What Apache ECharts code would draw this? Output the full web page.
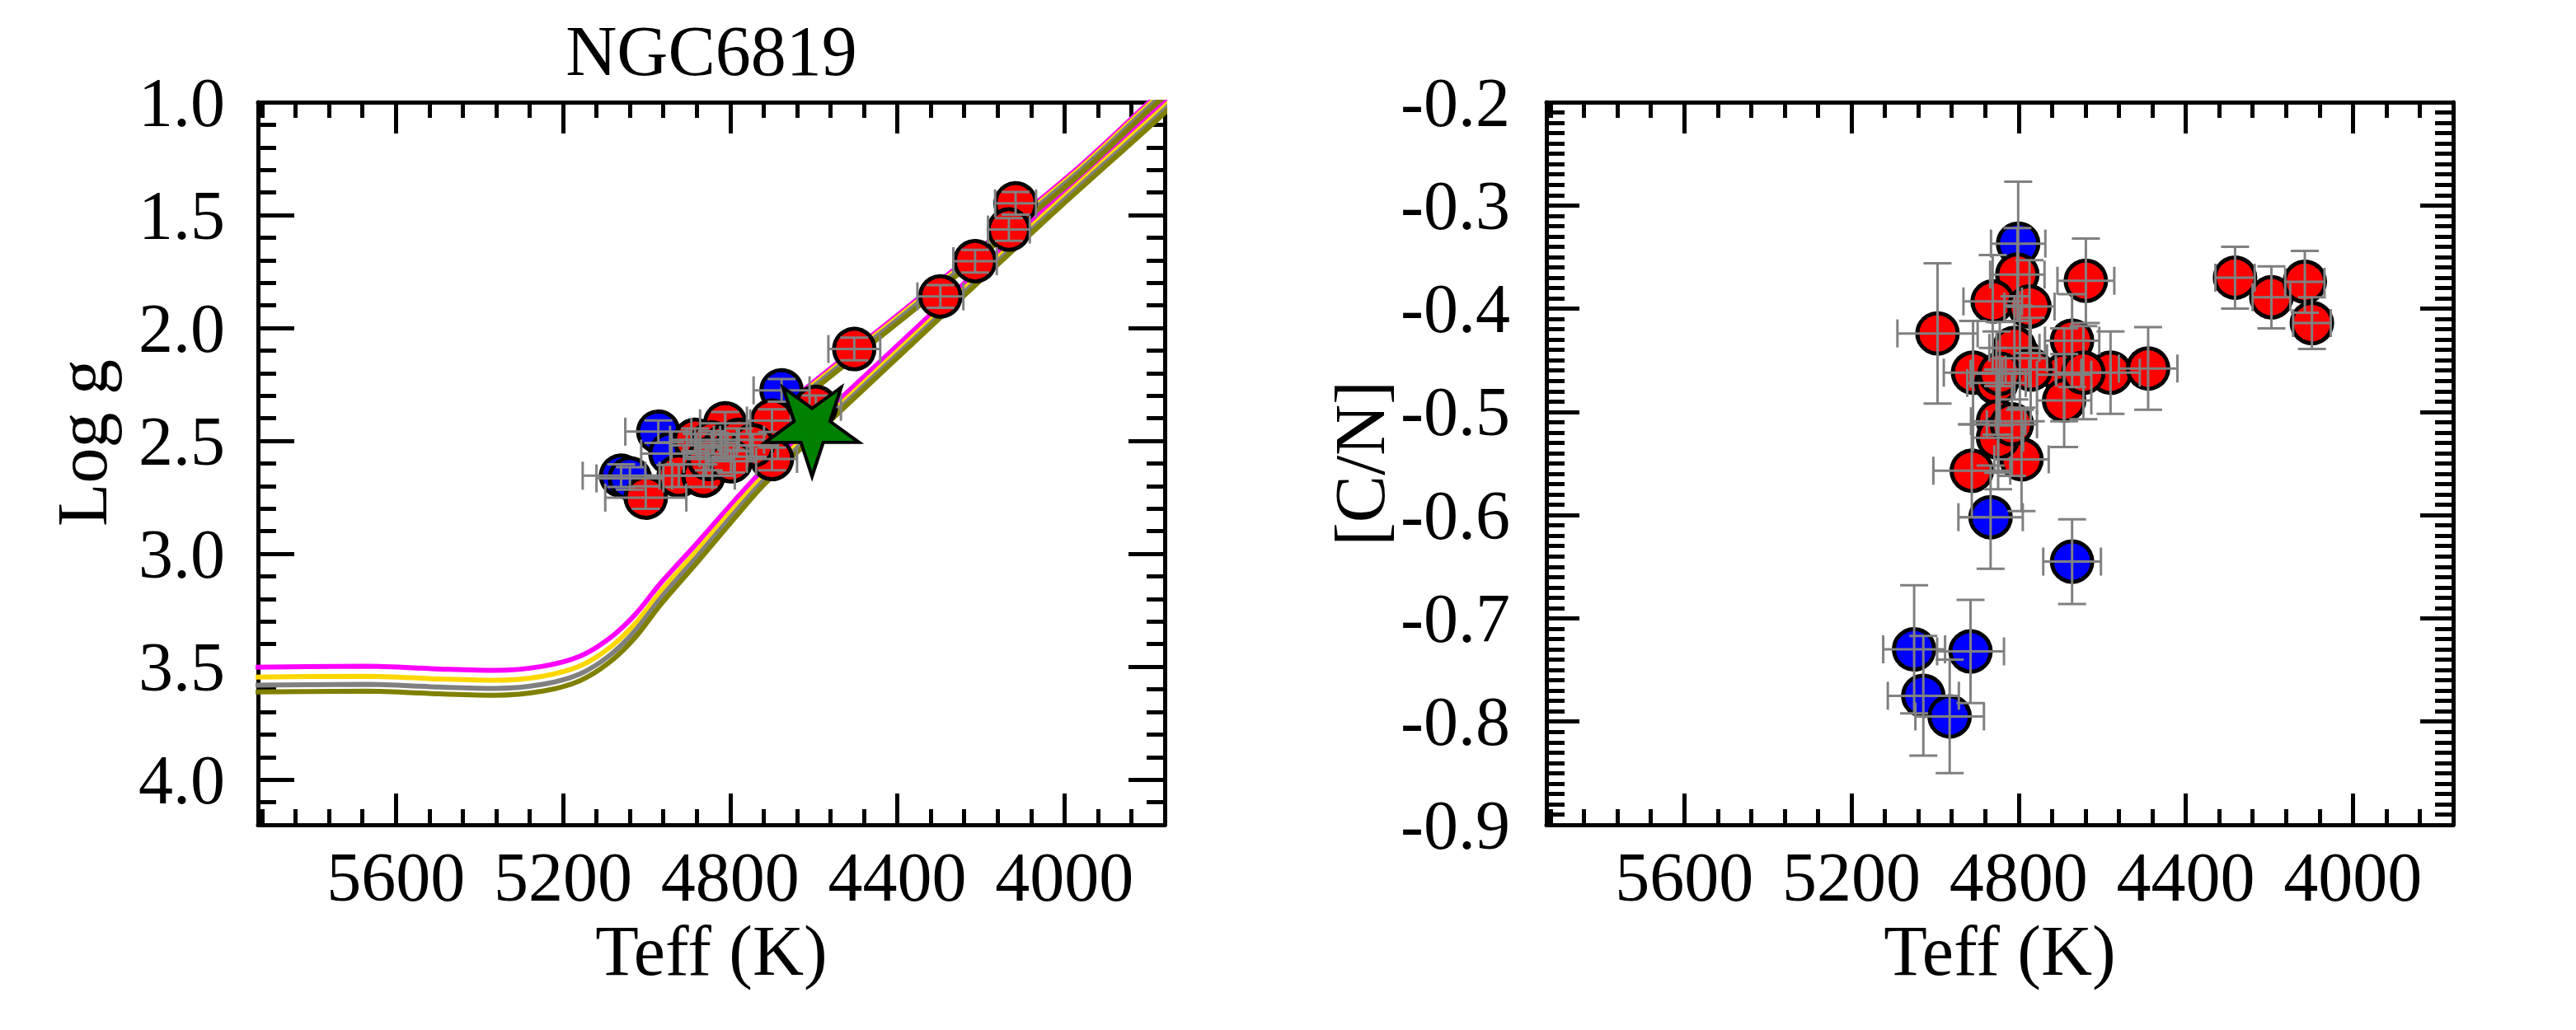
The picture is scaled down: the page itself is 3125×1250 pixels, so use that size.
<!DOCTYPE html>
<html>
<head>
<meta charset="utf-8">
<script src="https://cdn.jsdelivr.net/npm/echarts@6/dist/echarts.min.js"></script>
<style>
html, body { margin: 0; padding: 0; background: #fff; }
#main { width: 3125px; height: 1250px; }
</style>
</head>
<body>
<div id="main"></div>
<script>
// rows: [Teff, value, errTeff, errValue]
var loggBlue = [
    [4972, 2.459, 79, 0.05], [4677, 2.276, 67, 0.05], [5061, 2.654, 92, 0.05],
    [5040, 2.666, 80, 0.05], [4943, 2.556, 70, 0.05], [4812, 2.52, 60, 0.05],
    [4880, 2.52, 60, 0.05]
];
var loggRed = [
    [4117, 1.448, 49, 0.05], [4133, 1.564, 50, 0.05], [4214, 1.704, 52, 0.05],
    [4297, 1.86, 55, 0.05], [4503, 2.093, 62, 0.05], [5002, 2.751, 97, 0.05],
    [4923, 2.654, 80, 0.05], [4864, 2.654, 75, 0.05], [4700, 2.41, 60, 0.05],
    [4700, 2.58, 60, 0.05], [4812, 2.422, 60, 0.05], [4595, 2.349, 60, 0.05],
    [4884, 2.495, 60, 0.05], [4844, 2.507, 60, 0.05], [4812, 2.52, 60, 0.05],
    [4779, 2.495, 60, 0.05], [4746, 2.52, 60, 0.05], [4851, 2.58, 60, 0.05],
    [4798, 2.59, 60, 0.05]
];
var loggStar = [[4604, 2.46]];

var cnBlue = [
    [4801, -0.337, 65, 0.06], [4867, -0.602, 77, 0.05], [4672, -0.645, 69, 0.041],
    [5050, -0.730, 74, 0.062], [4915, -0.732, 80, 0.05], [5028, -0.775, 85, 0.058],
    [4965, -0.795, 82, 0.055]
];
var cnRed = [
    [4803, -0.367, 65, 0.045], [4862, -0.393, 70, 0.045], [4639, -0.373, 68, 0.041],
    [4994, -0.424, 96, 0.068], [4774, -0.398, 60, 0.045], [4672, -0.431, 65, 0.045],
    [4909, -0.462, 70, 0.05], [4797, -0.448, 65, 0.05], [4853, -0.472, 70, 0.05],
    [4691, -0.464, 65, 0.045], [4580, -0.462, 70, 0.04], [4490, -0.458, 70, 0.04],
    [4691, -0.489, 65, 0.045], [4849, -0.509, 65, 0.05], [4793, -0.546, 65, 0.05],
    [4912, -0.557, 92, 0.045], [4810, -0.438, 60, 0.05], [4771, -0.459, 60, 0.05],
    [4645, -0.462, 65, 0.045], [4849, -0.525, 60, 0.05], [4816, -0.512, 60, 0.05],
    [4845, -0.463, 70, 0.05], [4282, -0.370, 47, 0.03], [4195, -0.389, 45, 0.03],
    [4115, -0.374, 47, 0.03], [4098, -0.414, 45, 0.025]
];

// isochrones: red giant branch and upper branch, [Teff, logg]
var magentaRgb = [[6000, 3.503], [5672, 3.498], [5495, 3.51], [5363, 3.516], [5249, 3.498], [5160, 3.454], [5090, 3.376], [5028, 3.27], [4967, 3.131], [4879, 2.952], [4790, 2.765], [4720, 2.626], [4528, 2.299], [4055, 1.484], [3781, 1.028], [3700, 0.89]];
var goldRgb = [[6000, 3.547], [5672, 3.542], [5495, 3.554], [5363, 3.56], [5249, 3.542], [5160, 3.497], [5090, 3.418], [5028, 3.31], [4967, 3.168], [4879, 2.985], [4790, 2.795], [4720, 2.655], [4528, 2.324], [4055, 1.509], [3781, 1.053], [3700, 0.915]];
var grayRgb = [[6000, 3.583], [5672, 3.578], [5495, 3.59], [5363, 3.596], [5249, 3.578], [5160, 3.532], [5090, 3.452], [5028, 3.342], [4967, 3.198], [4879, 3.012], [4790, 2.82], [4720, 2.675], [4528, 2.339], [4055, 1.524], [3781, 1.068], [3700, 0.93]];
var oliveRgb = [[6000, 3.613], [5672, 3.608], [5495, 3.62], [5363, 3.626], [5249, 3.608], [5160, 3.562], [5090, 3.482], [5028, 3.372], [4967, 3.226], [4879, 3.038], [4790, 2.843], [4720, 2.695], [4528, 2.354], [4055, 1.539], [3781, 1.083], [3700, 0.945]];
var magentaAgb = [[4780, 2.52], [4700, 2.40], [4614, 2.26], [4377, 1.91], [3982, 1.314], [3797, 1.0], [3700, 0.84]];
var goldAgb = [[4780, 2.53], [4700, 2.41], [4614, 2.27], [4377, 1.92], [3982, 1.324], [3797, 1.01], [3700, 0.85]];
var grayAgb = [[4780, 2.54], [4700, 2.42], [4614, 2.28], [4377, 1.93], [3982, 1.334], [3797, 1.02], [3700, 0.86]];
var oliveAgb = [[4780, 2.555], [4700, 2.435], [4614, 2.295], [4377, 1.945], [3982, 1.349], [3797, 1.035], [3700, 0.875]];

var teffLabels = [5600, 5200, 4800, 4400, 4000];
var loggLabels = [1.0, 1.5, 2.0, 2.5, 3.0, 3.5, 4.0];
var cnLabels = [-0.9, -0.8, -0.7, -0.6, -0.5, -0.4, -0.3, -0.2];

var FONT = 'Liberation Serif';
var tMin = 3760, tMax = 5930;

function minorTicks(from, to, step, majors) {
    var out = [];
    for (var v = from; v <= to + step / 2; v += step) {
        var r = Math.round(v * 1000) / 1000;
        var isMajor = majors.some(function (m) { return Math.abs(m - r) < step / 4; });
        if (!isMajor) out.push(r);
    }
    return out;
}
var teffMinor = minorTicks(3760, 5920, 80, teffLabels);
var loggMinor = minorTicks(1.1, 4.2, 0.1, loggLabels);
var cnMinor = minorTicks(-0.9, -0.2, 0.01, cnLabels);

function fmtInt(v) { return String(Math.round(v)); }
function fmt1(v) { return v.toFixed(1); }

function makeAxis(gi, position, min, max, inverse, ticks, len, withLine, labels, fmt, margin, name, nameGap, namePad) {
    return {
        gridIndex: gi, type: 'value', position: position,
        min: min, max: max, inverse: inverse,
        splitLine: { show: false },
        axisLine: { show: withLine, onZero: false, lineStyle: { color: '#000', width: 5 } },
        axisTick: { show: true, inside: true, length: len, customValues: ticks, lineStyle: { color: '#000', width: 5 } },
        axisLabel: labels ? {
            show: true, customValues: labels, formatter: fmt, margin: margin,
            color: '#000', fontSize: 84, fontFamily: FONT
        } : { show: false },
        name: name || '', nameLocation: 'middle', nameGap: nameGap || 0,
        nameTextStyle: { color: '#000', fontSize: 86, fontFamily: FONT, padding: namePad || 0 }
    };
}

function xAxesFor(gi) {
    return [
        makeAxis(gi, 'bottom', tMin, tMax, true, teffLabels, 38, true, teffLabels, fmtInt, 21, 'Teff (K)', 102),
        makeAxis(gi, 'bottom', tMin, tMax, true, teffMinor, 19, false),
        makeAxis(gi, 'top', tMin, tMax, true, teffLabels, 38, true),
        makeAxis(gi, 'top', tMin, tMax, true, teffMinor, 19, false)
    ];
}

var yAxes = [
    makeAxis(0, 'left', 1.0, 4.2, true, loggLabels, 44, true, loggLabels, fmt1, 40, 'Log g', 170, [0, 0, 0, 50]),
    makeAxis(0, 'left', 1.0, 4.2, true, loggMinor, 22, false),
    makeAxis(0, 'right', 1.0, 4.2, true, loggLabels, 44, true),
    makeAxis(0, 'right', 1.0, 4.2, true, loggMinor, 22, false),
    makeAxis(1, 'left', -0.9, -0.2, false, cnLabels, 40, true, cnLabels, fmt1, 44, '[C/N]', 183),
    makeAxis(1, 'left', -0.9, -0.2, false, cnMinor, 22, false),
    makeAxis(1, 'right', -0.9, -0.2, false, cnLabels, 40, true),
    makeAxis(1, 'right', -0.9, -0.2, false, cnMinor, 22, false)
];

function errorBars(rows, xi, yi) {
    return {
        type: 'custom', xAxisIndex: xi, yAxisIndex: yi, z: 4, silent: true,
        data: rows,
        encode: { x: 0, y: 1 },
        renderItem: function (params, api) {
            var x = api.value(0), y = api.value(1), ex = api.value(2), ey = api.value(3);
            var l = api.coord([x - ex, y]), r = api.coord([x + ex, y]);
            var t = api.coord([x, y - ey]), b = api.coord([x, y + ey]);
            var st = { stroke: '#808080', lineWidth: 3 };
            var c = 17;
            function seg(x1, y1, x2, y2) {
                return { type: 'line', shape: { x1: x1, y1: y1, x2: x2, y2: y2 }, style: st };
            }
            return {
                type: 'group',
                children: [
                    seg(l[0], l[1], r[0], r[1]),
                    seg(l[0], l[1] - c, l[0], l[1] + c),
                    seg(r[0], r[1] - c, r[0], r[1] + c),
                    seg(t[0], t[1], b[0], b[1]),
                    seg(t[0] - c, t[1], t[0] + c, t[1]),
                    seg(b[0] - c, b[1], b[0] + c, b[1])
                ]
            };
        }
    };
}

function dots(rows, color, xi, yi) {
    return {
        type: 'scatter', xAxisIndex: xi, yAxisIndex: yi, z: 3, silent: true,
        data: rows.map(function (d) { return [d[0], d[1]]; }),
        symbol: 'circle', symbolSize: 49,
        itemStyle: { color: color, borderColor: '#000', borderWidth: 5, opacity: 1 }
    };
}

function iso(data, color) {
    return {
        type: 'line', xAxisIndex: 0, yAxisIndex: 0, z: 2, silent: true,
        data: data, symbol: 'none', showSymbol: false, smooth: 0.3, clip: true,
        lineStyle: { color: color, width: 6 }
    };
}

function starPath() {
    var pts = [];
    for (var k = 0; k < 10; k++) {
        var r = k % 2 === 0 ? 50 : 19.1;
        var a = Math.PI / 2 + k * Math.PI / 5;
        pts.push((50 + r * Math.cos(a)).toFixed(2) + ' ' + (50 + r * Math.sin(a)).toFixed(2));
    }
    return 'path://M' + pts.join(' L') + ' Z';
}

var chart = echarts.init(document.getElementById('main'), null, { renderer: 'svg' });
chart.setOption({
    animation: false,
    backgroundColor: '#fff',
    grid: [
        { left: 313, top: 124, width: 1100, height: 877 },
        { left: 1876, top: 124, width: 1100, height: 877 }
    ],
    xAxis: xAxesFor(0).concat(xAxesFor(1)),
    yAxis: yAxes,
    graphic: [{
        type: 'text', x: 863, y: 62,
        style: { text: 'NGC6819', align: 'center', verticalAlign: 'middle', fontSize: 86, fontFamily: FONT, fill: '#000' }
    }],
    series: [
        iso(magentaRgb, '#ff00ff'), iso(magentaAgb, '#ff00ff'),
        iso(goldRgb, '#ffd700'), iso(goldAgb, '#ffd700'),
        iso(grayRgb, '#808080'), iso(grayAgb, '#808080'),
        iso(oliveRgb, '#808000'), iso(oliveAgb, '#808000'),
        dots(loggBlue, '#0000ff', 0, 0),
        dots(loggRed, '#ff0000', 0, 0),
        errorBars(loggBlue.concat(loggRed), 0, 0),
        {
            type: 'scatter', xAxisIndex: 0, yAxisIndex: 0, z: 5, silent: true,
            data: loggStar, symbol: starPath(), symbolSize: [114, 108],
            itemStyle: { color: '#008000', borderColor: '#000', borderWidth: 4, opacity: 1 }
        },
        dots(cnBlue, '#0000ff', 4, 4),
        dots(cnRed, '#ff0000', 4, 4),
        errorBars(cnBlue.concat(cnRed), 4, 4)
    ]
});
</script>
</body>
</html>
